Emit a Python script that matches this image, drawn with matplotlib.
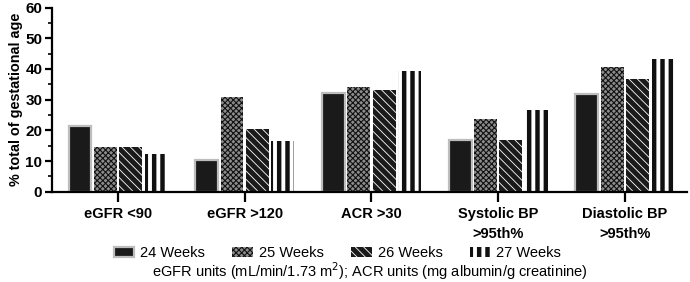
import matplotlib
matplotlib.use("Agg")
import matplotlib.pyplot as plt
import numpy as np

plt.rcParams['font.family'] = ['Liberation Sans', 'DejaVu Sans']

categories = ["eGFR <90", "eGFR >120", "ACR >30", "Systolic BP\n>95th%", "Diastolic BP\n>95th%"]
series_names = ["24 Weeks", "25 Weeks", "26 Weeks", "27 Weeks"]
weeks24 = [21.5, 10.2, 32.2, 17.0, 32.0]
weeks25 = [14.7, 30.9, 34.0, 23.7, 40.7]
weeks26 = [14.7, 20.6, 33.1, 16.8, 36.6]
weeks27 = [12.2, 16.5, 39.3, 26.6, 43.4]
y_ticks = [0, 10, 20, 30, 40, 50, 60]

fig = plt.figure(figsize=(6.9, 2.82), dpi=100)
ax = fig.add_axes([0.0754, 0.320, 0.9203, 0.653])

x = np.arange(len(categories))
pitch = 0.2
width = 0.18

styles = [
    dict(color='#1a1a1a', edgecolor='#bdbdbd', linewidth=1.6),
    dict(color='#8c8c8c', edgecolor='#111111', hatch='xxxxxx', linewidth=0),
    dict(color='#1a1a1a', edgecolor='white', hatch='\\\\\\\\', linewidth=0),
    dict(color='white', edgecolor='#111111', hatch='||', linewidth=0),
]
hatch_lw = [1.0, 0.8, 0.6, 3.2]


def set_hlw(patch, lw):
    if hasattr(patch, 'set_hatch_linewidth'):
        patch.set_hatch_linewidth(lw)
    else:
        patch._hatch_linewidth = lw


handles = []
for i, (vals, st) in enumerate(zip([weeks24, weeks25, weeks26, weeks27], styles)):
    with plt.rc_context({'hatch.linewidth': hatch_lw[i]}):
        bars = ax.bar(x + (i - 1.5) * pitch, vals, width, label=series_names[i], **st)
        for b in bars:
            set_hlw(b, hatch_lw[i])
    handles.append(bars)

ax.set_xlim(-0.52, 4.49)
ax.set_ylim(0, 60)
ax.set_yticks(y_ticks)
ax.set_yticks(np.arange(5, 60, 10), minor=True)
ax.set_xticks(x)
ax.set_xticklabels(categories, fontsize=10.5, fontweight='bold', linespacing=1.5)
for lab in ax.get_yticklabels():
    lab.set_fontsize(11)
    lab.set_fontweight('bold')

for s in ['top', 'right']:
    ax.spines[s].set_visible(False)
for s in ['left', 'bottom']:
    ax.spines[s].set_linewidth(1.6)
ax.tick_params(axis='y', which='major', length=5, width=1.6, pad=2)
ax.tick_params(axis='y', which='minor', length=3, width=1.2)
ax.tick_params(axis='x', which='major', length=7, width=1.6, pad=4)

ax.set_ylabel("% total of gestational age", fontsize=10.4, fontweight='bold', labelpad=2)

leg = fig.legend(handles=handles, labels=series_names, loc='center', bbox_to_anchor=(0.489, 0.103),
                 ncol=4, frameon=False, fontsize=10.5, handlelength=1.4, handleheight=0.7,
                 columnspacing=1.9, handletextpad=0.4, borderpad=0.1)
for i, p in enumerate(leg.get_patches()):
    set_hlw(p, hatch_lw[i])

fig.text(0.5355, 0.040, "eGFR units (mL/min/1.73 m$^2$); ACR units (mg albumin/g creatinine)",
         ha='center', va='center', fontsize=10.5)

fig.savefig("out.png", dpi=100)
